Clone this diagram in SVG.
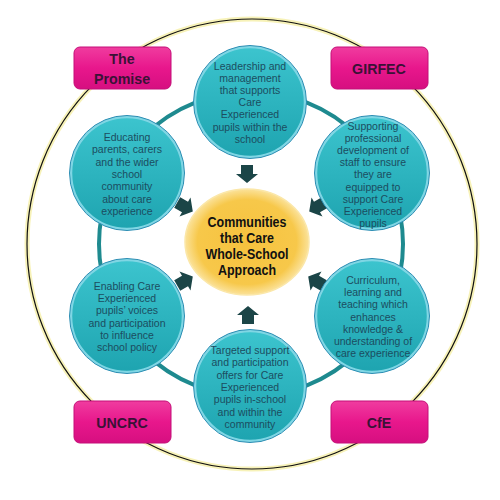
<svg xmlns="http://www.w3.org/2000/svg" width="500" height="500" viewBox="0 0 500 500">
<defs>
<linearGradient id="tealG" x1="0" y1="0" x2="0" y2="1">
<stop offset="0" stop-color="#3cc4ce"/><stop offset="1" stop-color="#1ea4b0"/>
</linearGradient>
<linearGradient id="pinkG" x1="0" y1="0" x2="0" y2="1">
<stop offset="0" stop-color="#f03c9f"/><stop offset="0.5" stop-color="#e8178c"/><stop offset="1" stop-color="#d60f80"/>
</linearGradient>
<radialGradient id="yelG" cx="0.5" cy="0.5" r="0.5">
<stop offset="0" stop-color="#f6c23e"/><stop offset="0.8" stop-color="#f7c84a"/><stop offset="1" stop-color="#fbe29a"/>
</radialGradient>
<path id="arr" d="M-6,-9 L6,-9 L6,0 L11,0 L0,9 L-11,0 L-6,0 Z"/>
</defs>
<style>
.circ{fill:url(#tealG);stroke:#7fd6e4;stroke-width:2.5}
.rim{fill:none;stroke:#2b8db3;stroke-width:1}
.box{fill:url(#pinkG);stroke:#c40f78;stroke-width:1}
.ct{font-family:"Liberation Sans",Arial,sans-serif;font-size:10.5px;fill:#1c4d60;text-anchor:middle}
.bt{font-family:"Liberation Sans",Arial,sans-serif;font-size:15.5px;font-weight:bold;fill:#3a1236;text-anchor:middle}
.mt{font-family:"Liberation Sans",Arial,sans-serif;font-size:14.5px;font-weight:bold;fill:#111;text-anchor:middle}
.ar{fill:#1b4547}
</style>
<rect width="500" height="500" fill="#fff"/>
<circle cx="252" cy="244" r="225" fill="none" stroke="#f7f2b8" stroke-width="5"/>
<circle cx="252" cy="244" r="225" fill="none" stroke="#111" stroke-width="1.2"/>
<circle cx="251" cy="244" r="152" fill="none" stroke="#1e8a8f" stroke-width="4"/>

<g id="connectors">
<use href="#arr" class="ar" transform="translate(247,174)"/>
<use href="#arr" class="ar" transform="translate(185,207) rotate(-60)"/>
<use href="#arr" class="ar" transform="translate(317,207) rotate(60)"/>
<use href="#arr" class="ar" transform="translate(185,281) rotate(-120)"/>
<use href="#arr" class="ar" transform="translate(316,281) rotate(120)"/>
<use href="#arr" class="ar" transform="translate(248,315) rotate(180)"/>
</g>

<g id="the-promise">
<rect x="74" y="47" width="97" height="42" rx="6" class="box"/>
<g transform="translate(122,0) scale(0.92,1)"><text class="bt" x="0" y="64">The</text><text class="bt" x="0" y="84">Promise</text></g>
</g>
<g id="girfec">
<rect x="331" y="47" width="97" height="42" rx="6" class="box"/>
<g transform="translate(379,0) scale(0.92,1)"><text class="bt" x="0" y="74">GIRFEC</text></g>
</g>
<g id="uncrc">
<rect x="74" y="401" width="97" height="42" rx="6" class="box"/>
<g transform="translate(122,0) scale(0.92,1)"><text class="bt" x="0" y="428">UNCRC</text></g>
</g>
<g id="cfe">
<rect x="331" y="401" width="97" height="42" rx="6" class="box"/>
<g transform="translate(379,0) scale(0.92,1)"><text class="bt" x="0" y="428">CfE</text></g>
</g>

<g id="leadership">
<circle cx="250" cy="102" r="55" class="circ"/><circle cx="250" cy="102" r="56.5" class="rim"/>
<text class="ct" x="250" y="70">Leadership and<tspan x="250" dy="12.1">management</tspan><tspan x="250" dy="12.1">that supports</tspan><tspan x="250" dy="12.1">Care</tspan><tspan x="250" dy="12.1">Experienced</tspan><tspan x="250" dy="12.1">pupils within the</tspan><tspan x="250" dy="12.1">school</tspan></text>
</g>
<g id="educating">
<circle cx="127" cy="173" r="56" class="circ"/><circle cx="127" cy="173" r="57.5" class="rim"/>
<text class="ct" x="127" y="141">Educating<tspan x="127" dy="12.3">parents, carers</tspan><tspan x="127" dy="12.3">and the wider</tspan><tspan x="127" dy="12.3">school</tspan><tspan x="127" dy="12.3">community</tspan><tspan x="127" dy="12.3">about care</tspan><tspan x="127" dy="12.3">experience</tspan></text>
</g>
<g id="supporting">
<circle cx="372" cy="173" r="56" class="circ"/><circle cx="372" cy="173" r="57.5" class="rim"/>
<text class="ct" x="373" y="130">Supporting<tspan x="373" dy="12.1">professional</tspan><tspan x="373" dy="12.1">development of</tspan><tspan x="373" dy="12.1">staff to ensure</tspan><tspan x="373" dy="12.1">they are</tspan><tspan x="373" dy="12.1">equipped to</tspan><tspan x="373" dy="12.1">support Care</tspan><tspan x="373" dy="12.1">Experienced</tspan><tspan x="373" dy="12.1">pupils</tspan></text>
</g>
<g id="enabling">
<circle cx="127" cy="316" r="56" class="circ"/><circle cx="127" cy="316" r="57.5" class="rim"/>
<text class="ct" x="127" y="290">Enabling Care<tspan x="127" dy="12.2">Experienced</tspan><tspan x="127" dy="12.2">pupils’ voices</tspan><tspan x="127" dy="12.2">and participation</tspan><tspan x="127" dy="12.2">to influence</tspan><tspan x="127" dy="12.2">school policy</tspan></text>
</g>
<g id="curriculum">
<circle cx="372" cy="316" r="56" class="circ"/><circle cx="372" cy="316" r="57.5" class="rim"/>
<text class="ct" x="373" y="284">Curriculum,<tspan x="373" dy="12.2">learning and</tspan><tspan x="373" dy="12.2">teaching which</tspan><tspan x="373" dy="12.2">enhances</tspan><tspan x="373" dy="12.2">knowledge &amp;</tspan><tspan x="373" dy="12.2">understanding of</tspan><tspan x="373" dy="12.2">care experience</tspan></text>
</g>
<g id="targeted">
<circle cx="250" cy="386" r="55" class="circ"/><circle cx="250" cy="386" r="56.5" class="rim"/>
<text class="ct" x="250" y="354">Targeted support<tspan x="250" dy="12.3">and participation</tspan><tspan x="250" dy="12.3">offers for Care</tspan><tspan x="250" dy="12.3">Experienced</tspan><tspan x="250" dy="12.3">pupils in-school</tspan><tspan x="250" dy="12.3">and within the</tspan><tspan x="250" dy="12.3">community</tspan></text>
</g>
<g id="center">
<ellipse cx="247" cy="242" rx="62" ry="53" fill="url(#yelG)" stroke="#fbe7a8" stroke-width="1.5"/>
<g transform="translate(247,0) scale(0.86,1)"><text class="mt" x="0" y="227">Communities<tspan x="0" dy="16">that Care</tspan><tspan x="0" dy="16">Whole-School</tspan><tspan x="0" dy="16">Approach</tspan></text></g>
</g>
</svg>
